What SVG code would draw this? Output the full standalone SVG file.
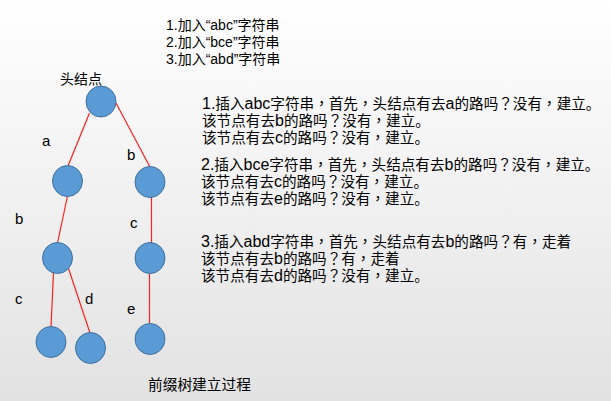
<svg xmlns="http://www.w3.org/2000/svg" width="611" height="401" viewBox="0 0 611 401">
<defs>
<linearGradient id="bg" x1="0" y1="0" x2="0" y2="1">
<stop offset="0" stop-color="#ffffff"/>
<stop offset="1" stop-color="#e2e2e2"/>
</linearGradient>
</defs>
<style>
.t{font-family:"Liberation Sans","Noto Sans CJK SC",sans-serif;font-size:14px;fill:#000}
.s{font-size:14.6px}
.l{font-size:16px}
.lab{font-size:15px}
.p{font-family:"Noto Sans CJK TC",sans-serif}
.n{fill:#5b9bd5;stroke:#41719c;stroke-width:1}
.e{stroke:#ff2020;stroke-width:1.2;fill:none}
</style>
<rect width="611" height="401" fill="url(#bg)"/>
<g id="intro" class="t">
<text x="166" y="30">1.加入“abc”字符串</text>
<text x="166" y="47">2.加入“bce”字符串</text>
<text x="166" y="64">3.加入“abd”字符串</text>
</g>
<g id="connectors">
<line class="e" x1="89.5" y1="113" x2="68" y2="166"/>
<line class="e" x1="116" y1="103" x2="150.5" y2="168"/>
<line class="e" x1="67.5" y1="196" x2="57.5" y2="243"/>
<line class="e" x1="151.5" y1="195" x2="151.5" y2="243"/>
<line class="e" x1="53.5" y1="272.5" x2="51" y2="327"/>
<line class="e" x1="68.5" y1="268.5" x2="90" y2="333"/>
<line class="e" x1="149.5" y1="273" x2="149.5" y2="323"/>
</g>
<g id="edge-labels" class="t lab">
<text x="42" y="146">a</text>
<text x="127" y="160">b</text>
<text x="15" y="224">b</text>
<text x="130" y="228">c</text>
<text x="15" y="304">c</text>
<text x="85" y="304">d</text>
<text x="127" y="314">e</text>
</g>
<g id="root">
<text class="t" x="60" y="84">头结点</text>
<ellipse class="n" cx="101" cy="101.5" rx="15" ry="15.5"/>
</g>
<g id="node-a"><ellipse class="n" cx="67.5" cy="181" rx="15" ry="15.5"/></g>
<g id="node-b"><ellipse class="n" cx="150" cy="182" rx="15" ry="15.5"/></g>
<g id="node-ab"><ellipse class="n" cx="57.5" cy="258" rx="15" ry="15.5"/></g>
<g id="node-bc"><ellipse class="n" cx="150" cy="258" rx="15" ry="15.5"/></g>
<g id="node-abc"><ellipse class="n" cx="51" cy="342" rx="15" ry="15.5"/></g>
<g id="node-abd"><ellipse class="n" cx="90.5" cy="348" rx="15" ry="15.5"/></g>
<g id="node-bce"><ellipse class="n" cx="150" cy="339" rx="15" ry="15.5"/></g>
<g id="steps" class="t s">
<text x="202" y="109"><tspan class="l">1.</tspan>插入<tspan class="l">abc</tspan>字符串<tspan class="p">，</tspan>首先<tspan class="p">，</tspan>头结点有去<tspan class="l">a</tspan>的路吗<tspan class="p">？</tspan>没有<tspan class="p">，</tspan>建立。</text>
<text x="202" y="126">该节点有去<tspan class="l">b</tspan>的路吗<tspan class="p">？</tspan>没有<tspan class="p">，</tspan>建立。</text>
<text x="202" y="143">该节点有去<tspan class="l">c</tspan>的路吗<tspan class="p">？</tspan>没有<tspan class="p">，</tspan>建立。</text>
<text x="201" y="170"><tspan class="l">2.</tspan>插入<tspan class="l">bce</tspan>字符串<tspan class="p">，</tspan>首先<tspan class="p">，</tspan>头结点有去<tspan class="l">b</tspan>的路吗<tspan class="p">？</tspan>没有<tspan class="p">，</tspan>建立。</text>
<text x="201" y="187">该节点有去<tspan class="l">c</tspan>的路吗<tspan class="p">？</tspan>没有<tspan class="p">，</tspan>建立。</text>
<text x="201" y="204">该节点有去<tspan class="l">e</tspan>的路吗<tspan class="p">？</tspan>没有<tspan class="p">，</tspan>建立。</text>
<text x="201" y="247"><tspan class="l">3.</tspan>插入<tspan class="l">abd</tspan>字符串<tspan class="p">，</tspan>首先<tspan class="p">，</tspan>头结点有去<tspan class="l">b</tspan>的路吗<tspan class="p">？</tspan>有<tspan class="p">，</tspan>走着</text>
<text x="201" y="264">该节点有去<tspan class="l">b</tspan>的路吗<tspan class="p">？</tspan>有<tspan class="p">，</tspan>走着</text>
<text x="201" y="281">该节点有去<tspan class="l">d</tspan>的路吗<tspan class="p">？</tspan>没有<tspan class="p">，</tspan>建立。</text>
</g>
<g id="caption" class="t">
<text x="148" y="390" style="font-size:14.7px">前缀树建立过程</text>
</g>
</svg>
